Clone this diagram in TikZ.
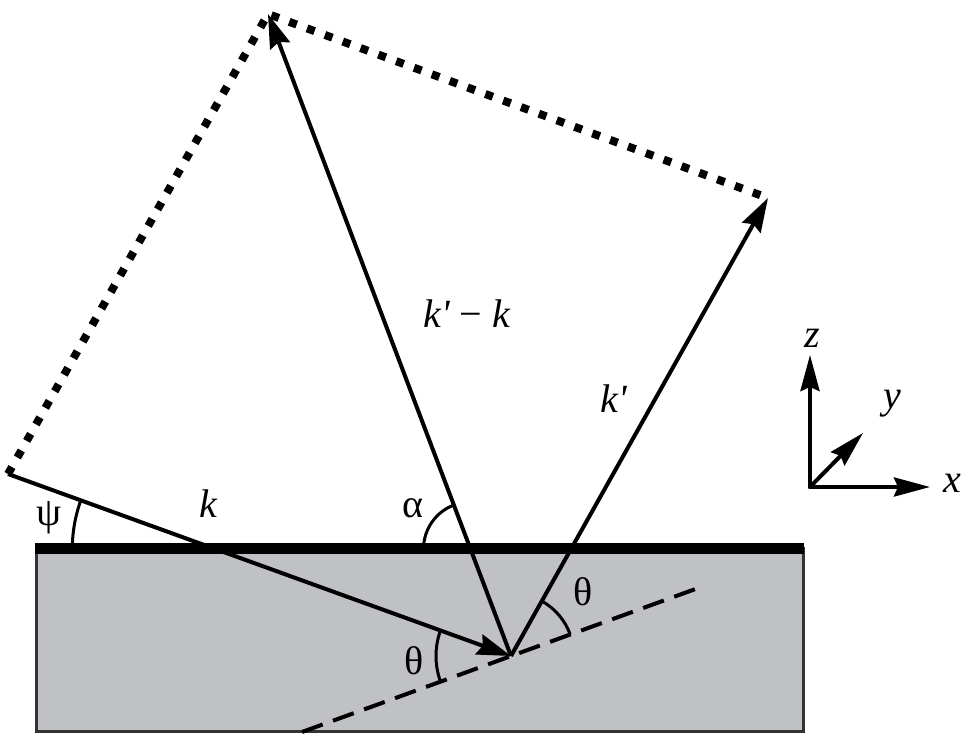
\documentclass[tikz,border=0pt]{standalone}
\usepackage{fontspec}
\setmainfont{LiberationSerif}[Extension=.ttf, UprightFont=*-Regular, ItalicFont=*-Italic, BoldFont=*-Bold]
\usetikzlibrary{arrows.meta}
\definecolor{crystal}{RGB}{192,193,196}
\tikzset{
  vec/.style={line width=2pt, -{Stealth[length=17pt,width=10.5pt,inset=2pt]}},
  axis/.style={line width=2pt, line cap=round, -{Stealth[length=18pt,width=9.5pt,inset=2pt]}},
  dotline/.style={line width=4pt, dash pattern=on 4pt off 5.5pt},
  plane/.style={line width=2pt, dash pattern=on 11pt off 5.5pt},
  anglearc/.style={line width=1.5pt},
  lbl/.style={inner sep=0pt, font=\fontsize{20}{24}\selectfont}
}
\begin{document}
\begin{tikzpicture}[x=0.5pt,y=0.5pt]
\useasboundingbox (0,0) rectangle (966,751);
\begin{scope}
    % crystal and its surface
    \draw[line width=1.5pt, draw=black!80, fill=crystal] (36,19) rectangle (803,202);
    \draw[line width=5.5pt] (35,202) -- (804,202);
    \coordinate (O) at (511,95);
    \coordinate (S) at (8,277);
    \coordinate (Kp) at (768,553);
    \coordinate (T) at (268,737);
    \coordinate (Pa) at (302,19);
    \coordinate (Pb) at (701,164);
    \coordinate (Cpsi) at (215.3,202);
    \coordinate (Calpha) at (470.5,202);
    \draw[plane] (Pa) -- (Pb);
    \draw[dotline] (S) -- (T) -- (Kp);
    \draw[vec] (S) -- (O);
    \draw[vec] (O) -- (T);
    \draw[vec] (O) -- (Kp);
    \draw[anglearc] ([shift={(180:143)}]Cpsi) arc[start angle=180, end angle=160, radius=143];
    \draw[anglearc] ([shift={(180:47)}]Calpha) arc[start angle=180, end angle=110.7, radius=47];
    \draw[anglearc] ([shift={(20:63)}]O) arc[start angle=20, end angle=60.6, radius=63];
    \draw[anglearc] ([shift={(160:75)}]O) arc[start angle=160, end angle=200, radius=75];
    \node[lbl] (psi) at (49,233) {ψ};
    \node[lbl] (k) at (208,247) {\itshape k};
    \node[lbl] (alpha) at (413,243) {α};
    \node[lbl] (thr) at (583,159) {θ};
    \node[lbl] (thl) at (414,90) {θ};
    \node[lbl] (kp) at (614,352) {\itshape k\textquotesingle};
    \node[lbl] (diff) at (467,437) {{\itshape k\textquotesingle} − {\itshape k}};
    % axes
    \coordinate (A) at (810,264);
    \coordinate (Ax) at (930,264);
    \coordinate (Ay) at (863,318);
    \coordinate (Az) at (810,396);
    \draw[axis] (A) -- (Ax);
    \draw[axis] (A) -- (Ay);
    \draw[axis] (A) -- (Az);
    \node[lbl] (xl) at (952,268) {\itshape x};
    \node[lbl] (yl) at (892,347) {\itshape y};
    \node[lbl] (zl) at (812,413) {\itshape z};
\end{scope}
%% scattering geometry done
\end{tikzpicture}
\end{document}
